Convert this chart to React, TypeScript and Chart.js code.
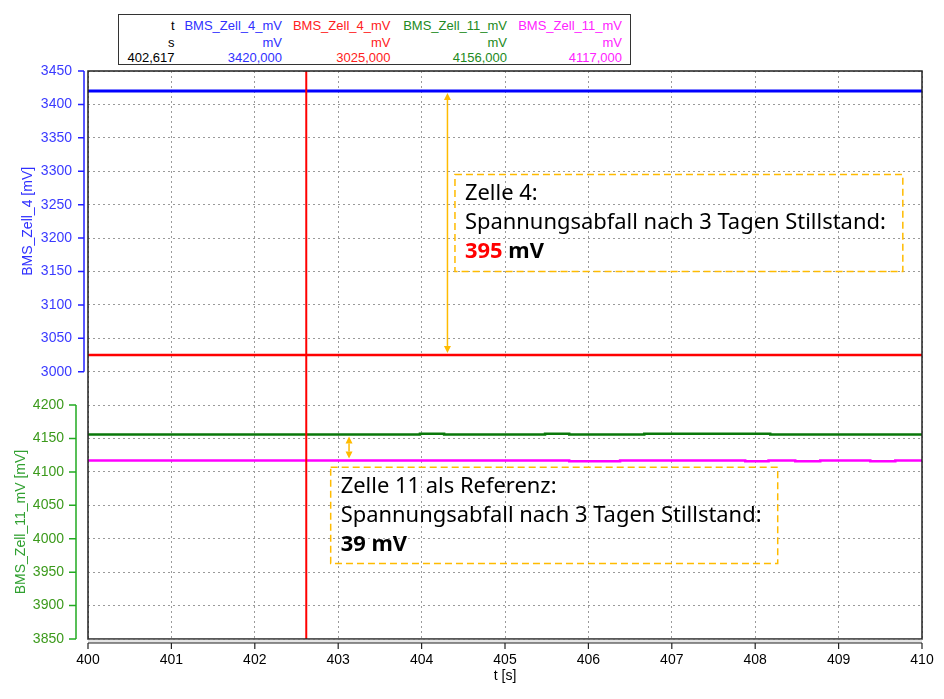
import React, { useEffect, useRef } from 'react';
import { Chart, registerables } from 'chart.js';

Chart.register(...registerables);
Chart.defaults.font.family = '"Liberation Sans", Arial, sans-serif';

// time axis (s)
const timeRange = [400, 410];
const cursorTime = 402.617;

// BMS_Zell_4_mV, blue trace and red trace (top panel)
const zell4BlueT = [400, 410];
const zell4BlueV = [3420, 3420];
const zell4RedT = [400, 410];
const zell4RedV = [3025, 3025];

// BMS_Zell_11_mV, green and magenta traces (bottom panel)
const zell11GreenT = [400, 403.98, 404.27, 405.48, 405.77, 406.67, 408.18, 410];
const zell11GreenV = [4156, 4157, 4156, 4157, 4156, 4157, 4156, 4156];
const zell11MagentaT = [400, 405.77, 406.38, 407.88, 408.16, 408.48, 408.78, 409.38, 409.68, 410];
const zell11MagentaV = [4117, 4116, 4117, 4116, 4117, 4116, 4117, 4116, 4117, 4117];

const topAxisRange = [3000, 3450];
const bottomAxisRange = [3850, 4200];

// cursor table
const headerNames = ['t', 'BMS_Zell_4_mV', 'BMS_Zell_4_mV', 'BMS_Zell_11_mV', 'BMS_Zell_11_mV'];
const headerUnits = ['s', 'mV', 'mV', 'mV', 'mV'];
const headerValues = ['402,617', '3420,000', '3025,000', '4156,000', '4117,000'];
const headerColors = ['#000000', '#3030ff', '#ff2020', '#228a22', '#ff22ff'];

// annotations (data coordinates)
const drop4 = { t: 404.31, from: 3420, to: 3025 };
const drop11 = { t: 403.13, from: 4156, to: 4117 };
const note4Box = { t0: 404.4, t1: 409.77, v0: 3295, v1: 3150 };
const note11Box = { t0: 402.91, t1: 408.27, v0: 4107, v1: 3963 };

type Run = { text: string; color?: string; bold?: boolean };
const note4Lines: Run[][] = [
  [{ text: 'Zelle 4:' }],
  [{ text: 'Spannungsabfall nach 3 Tagen Stillstand:' }],
  [{ text: '395', color: '#ff0000', bold: true }, { text: ' mV', bold: true }],
];
const note11Lines: Run[][] = [
  [{ text: 'Zelle 11 als Referenz:' }],
  [{ text: 'Spannungsabfall nach 3 Tagen Stillstand:' }],
  [{ text: '39 mV', bold: true }],
];

const ORANGE = '#ffbb00';
const NOTE_FONT = '"Noto Sans", sans-serif';

const toPoints = (t: number[], v: number[]) => t.map((x, i) => ({ x, y: v[i] }));
const plainTick = (v: any) => String(v);

function drawArrow(ctx: CanvasRenderingContext2D, x: number, y1: number, y2: number) {
  const head = 7;
  const half = 3.5;
  ctx.strokeStyle = ORANGE;
  ctx.fillStyle = ORANGE;
  ctx.lineWidth = 1.5;
  ctx.beginPath();
  ctx.moveTo(x, y1 + head);
  ctx.lineTo(x, y2 - head);
  ctx.stroke();
  ctx.beginPath();
  ctx.moveTo(x, y1);
  ctx.lineTo(x - half, y1 + head);
  ctx.lineTo(x + half, y1 + head);
  ctx.closePath();
  ctx.moveTo(x, y2);
  ctx.lineTo(x - half, y2 - head);
  ctx.lineTo(x + half, y2 - head);
  ctx.closePath();
  ctx.fill();
}

function drawNote(ctx: CanvasRenderingContext2D, l: number, t: number, r: number, b: number, lines: Run[][]) {
  ctx.save();
  ctx.strokeStyle = ORANGE;
  ctx.lineWidth = 1.5;
  ctx.setLineDash([7, 4]);
  ctx.strokeRect(l, t, r - l, b - t);
  ctx.setLineDash([]);
  // fit the long middle line to the width seen in the reference
  ctx.font = `400 100px ${NOTE_FONT}`;
  const w = ctx.measureText(lines[1][0].text).width;
  const fs = (100 * 421) / w;
  ctx.textBaseline = 'middle';
  lines.forEach((line, i) => {
    let x = l + 10;
    const y = t + 19.5 + i * 29;
    line.forEach((run) => {
      ctx.font = `${run.bold ? 700 : 400} ${fs}px ${NOTE_FONT}`;
      ctx.fillStyle = run.color || '#000000';
      ctx.fillText(run.text, x, y);
      x += ctx.measureText(run.text).width;
    });
  });
  ctx.restore();
}

const overlayPlugin = {
  id: 'overlay',
  afterDatasetsDraw(chart: any) {
    const { ctx, chartArea: a, scales } = chart;
    const x = scales.x;
    const yT = scales.yTop;
    const yB = scales.yBottom;
    ctx.save();
    // cursor
    const cx = x.getPixelForValue(cursorTime);
    ctx.strokeStyle = '#ff0000';
    ctx.lineWidth = 2;
    ctx.beginPath();
    ctx.moveTo(cx, a.top);
    ctx.lineTo(cx, a.bottom);
    ctx.stroke();

    drawNote(ctx, x.getPixelForValue(note4Box.t0), yT.getPixelForValue(note4Box.v0),
      x.getPixelForValue(note4Box.t1), yT.getPixelForValue(note4Box.v1), note4Lines);
    drawNote(ctx, x.getPixelForValue(note11Box.t0), yB.getPixelForValue(note11Box.v0),
      x.getPixelForValue(note11Box.t1), yB.getPixelForValue(note11Box.v1), note11Lines);

    drawArrow(ctx, x.getPixelForValue(drop4.t), yT.getPixelForValue(drop4.from) + 2, yT.getPixelForValue(drop4.to) - 2);
    drawArrow(ctx, x.getPixelForValue(drop11.t), yB.getPixelForValue(drop11.from) + 2, yB.getPixelForValue(drop11.to) - 2);
    ctx.restore();
  },
  afterDraw(chart: any) {
    const { ctx, chartArea: a, scales } = chart;
    ctx.save();
    // plot frame
    ctx.strokeStyle = '#222222';
    ctx.lineWidth = 1.5;
    ctx.strokeRect(a.left, a.top, a.right - a.left, a.bottom - a.top);

    const spine = (scale: any, off: number, len: number, color: string) => {
      const sx = a.left - off;
      ctx.strokeStyle = color;
      ctx.lineWidth = 1.5;
      ctx.beginPath();
      ctx.moveTo(sx, scale.getPixelForValue(scale.max));
      ctx.lineTo(sx, scale.getPixelForValue(scale.min));
      scale.ticks.forEach((tk: any) => {
        const py = scale.getPixelForValue(tk.value);
        ctx.moveTo(sx - len, py);
        ctx.lineTo(sx, py);
      });
      ctx.stroke();
    };
    spine(scales.yTop, 4, 6, '#2020ff');
    spine(scales.yBottom, 12, 7, '#22aa22');

    // time axis line with ticks below the frame
    const x = scales.x;
    const ay = a.bottom + 4;
    ctx.fillStyle = '#e4e4e4';
    ctx.fillRect(a.left, a.bottom + 0.75, a.right - a.left, 3);
    ctx.strokeStyle = '#222222';
    ctx.lineWidth = 1.2;
    ctx.beginPath();
    ctx.moveTo(a.left, ay);
    ctx.lineTo(a.right, ay);
    x.ticks.forEach((tk: any) => {
      const px = x.getPixelForValue(tk.value);
      ctx.moveTo(px, ay);
      ctx.lineTo(px, ay + 6);
    });
    ctx.stroke();
    ctx.restore();
  },
};

const gridOpts = { color: '#9a9a9a', lineWidth: 1, drawTicks: false };
const borderOpts = { display: false, dash: [2, 3] };

function CursorTable() {
  const rightEdges = [455.5, 348, 239.5, 123, 8];
  const rowTops = [3, 20, 34.5];
  const rows = [headerNames, headerUnits, headerValues];
  return (
    <div
      style={{
        position: 'absolute', left: 118, top: 14, width: 513, height: 51, boxSizing: 'border-box',
        border: '1px solid #333', background: '#fff',
        fontFamily: '"Liberation Sans", Arial, sans-serif', fontSize: 13, lineHeight: '15px',
      }}
    >
      {rows.map((row, r) =>
        row.map((txt, c) => (
          <span
            key={`${r}-${c}`}
            style={{ position: 'absolute', right: rightEdges[c], top: rowTops[r], color: headerColors[c], whiteSpace: 'nowrap' }}
          >
            {txt}
          </span>
        )),
      )}
    </div>
  );
}

export default function App() {
  const canvasRef = useRef<HTMLCanvasElement>(null);

  useEffect(() => {
    if (!canvasRef.current) return;
    const chart = new Chart(canvasRef.current, {
      type: 'line',
      data: {
        datasets: [
          { label: 'BMS_Zell_4_mV', data: toPoints(zell4BlueT, zell4BlueV), yAxisID: 'yTop', borderColor: '#0000ff', borderWidth: 3, pointRadius: 0, stepped: true },
          { label: 'BMS_Zell_4_mV', data: toPoints(zell4RedT, zell4RedV), yAxisID: 'yTop', borderColor: '#ff0000', borderWidth: 2.5, pointRadius: 0, stepped: true },
          { label: 'BMS_Zell_11_mV', data: toPoints(zell11GreenT, zell11GreenV), yAxisID: 'yBottom', borderColor: '#0a780a', borderWidth: 2.5, pointRadius: 0, stepped: true },
          { label: 'BMS_Zell_11_mV', data: toPoints(zell11MagentaT, zell11MagentaV), yAxisID: 'yBottom', borderColor: '#ff00ff', borderWidth: 2.5, pointRadius: 0, stepped: true },
        ] as any,
      },
      options: {
        animation: false,
        responsive: true,
        maintainAspectRatio: false,
        layout: { padding: { top: 71, right: 22, left: 0, bottom: 0 } },
        plugins: { legend: { display: false }, tooltip: { enabled: false } },
        scales: {
          x: {
            type: 'linear',
            min: timeRange[0],
            max: timeRange[1],
            ticks: { stepSize: 1, autoSkip: false, callback: plainTick, color: '#000', font: { size: 14 }, padding: 13 },
            grid: gridOpts,
            border: borderOpts,
            title: { display: true, text: 't [s]', color: '#000', font: { size: 14 }, padding: { top: 0, bottom: 14 } },
            afterFit: (s: any) => {
              s.height = 60;
              s.paddingLeft = 0;
              s.paddingRight = 0;
            },
          },
          // left stack: last declared is drawn on top
          yBottom: {
            type: 'linear',
            position: 'left',
            stack: 'v',
            stackWeight: 7,
            min: bottomAxisRange[0],
            max: bottomAxisRange[1],
            ticks: { stepSize: 50, autoSkip: false, callback: plainTick, color: '#3c9a1c', font: { size: 14 }, padding: 24 },
            grid: gridOpts,
            border: borderOpts,
            title: { display: true, text: 'BMS_Zell_11_mV [mV]', color: '#30a030', font: { size: 14 }, padding: { top: 13, bottom: 0 } },
            afterFit: (s: any) => { s.width = 88; },
          },
          ySpacer: {
            type: 'linear',
            position: 'left',
            stack: 'v',
            stackWeight: 1,
            display: false,
          },
          yTop: {
            type: 'linear',
            position: 'left',
            stack: 'v',
            stackWeight: 9,
            min: topAxisRange[0],
            max: topAxisRange[1],
            ticks: { stepSize: 50, autoSkip: false, callback: plainTick, color: '#3a3aff', font: { size: 14 }, padding: 16 },
            grid: gridOpts,
            border: borderOpts,
            title: { display: true, text: 'BMS_Zell_4 [mV]', color: '#3030ff', font: { size: 14 }, padding: { top: 20, bottom: 0 } },
            afterFit: (s: any) => { s.width = 88; },
          },
        },
      } as any,
      plugins: [overlayPlugin],
    });
    return () => chart.destroy();
  }, []);

  return (
    <div style={{ position: 'fixed', left: 0, top: 0, width: 944, height: 699, background: '#fff' }}>
      <div style={{ position: 'absolute', left: 0, top: 0, width: 944, height: 699 }}>
        <canvas ref={canvasRef} />
      </div>
      <CursorTable />
    </div>
  );
}
